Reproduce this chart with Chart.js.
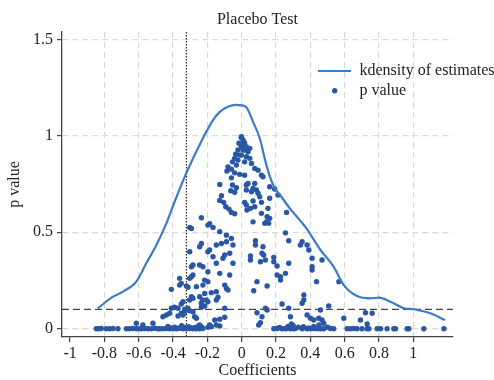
<!DOCTYPE html>
<html>
<head>
<meta charset="utf-8">
<script src="https://cdn.jsdelivr.net/npm/chart.js@4.4.0/dist/chart.umd.min.js"></script>
<style>
    html, body { margin: 0; padding: 0; background: #fff; }
    canvas { display: block; }
</style>
</head>
<body>
<canvas id="chart" width="494" height="380"></canvas>
<script>
// kernel density of the placebo estimates
const kdX = [-0.838, -0.75, -0.692, -0.614, -0.556, -0.497, -0.439, -0.391, -0.322, -0.226,
             -0.167, -0.128, -0.08, -0.035, 0.0, 0.03, 0.066, 0.105, 0.144, 0.183,
             0.231, 0.28, 0.338, 0.371, 0.459, 0.536, 0.595, 0.672, 0.75, 0.799,
             0.867, 0.945, 1.003, 1.1, 1.184];
const kdY = [0.106, 0.166, 0.192, 0.244, 0.339, 0.434, 0.546, 0.658, 0.808, 0.987,
             1.081, 1.124, 1.15, 1.16, 1.158, 1.145, 1.073, 0.987, 0.848, 0.745,
             0.684, 0.624, 0.563, 0.528, 0.408, 0.321, 0.226, 0.169, 0.157, 0.161,
             0.14, 0.106, 0.101, 0.08, 0.045];

// placebo coefficients and their p values (same order)
const coefX = [
    -0.002, 0.012, -0.016, -0.002, -0.022, 0.017, -0.035, -0.012, -0.041, -0.022,
    -0.054, -0.031, -0.080, -0.060, -0.086, -0.041, -0.012, -0.060, -0.128, -0.054,
    -0.031, -0.064, -0.041, 0.027, -0.118, -0.128, -0.105, -0.093, -0.074, -0.060,
    -0.041, 0.017, 0.031, -0.235, -0.187,
    -0.002, 0.008, 0.017, -0.002, 0.027, 0.047, 0.008, 0.037, -0.002, 0.027,
    0.047, 0.017, 0.057, 0.076, 0.095, 0.017, 0.115, 0.124, 0.037, 0.027,
    0.076, 0.066, 0.086, 0.057, 0.095, 0.163, 0.192, 0.212, 0.105, 0.163,
    0.066, 0.115, 0.027, 0.076, 0.153, 0.115, 0.261, 0.163, 0.066, 0.144,
    0.134, 0.051, 0.148, 0.157,
    -0.303, -0.197, -0.167, -0.128, -0.089, -0.060, -0.089, -0.118, -0.051, -0.235,
    -0.245, -0.148, -0.303, -0.197, -0.099, -0.070, -0.167, -0.109, -0.051, -0.245,
    -0.226, -0.148, -0.197, -0.128, -0.284, -0.070, -0.362, -0.216, -0.197, -0.352,
    -0.362, -0.099, -0.410, -0.322, -0.264, -0.089, -0.080, -0.148, -0.216, -0.177,
    -0.293, -0.284, -0.138, -0.148, -0.206, -0.303, -0.235, -0.197, -0.342, -0.352,
    -0.216, -0.410, -0.391, -0.371, -0.332, -0.313, -0.303, -0.235, -0.099, -0.439,
    -0.420, -0.371, -0.342, -0.274, -0.157, -0.128, -0.099, -0.197, -0.177, -0.148,
    -0.128,
    -0.614, -0.517, -0.576, -0.459, -0.352, -0.332, -0.284, -0.264, -0.245, -0.235,
    -0.187, -0.313, -0.293, -0.303, -0.284, -0.293, -0.293, -0.226, -0.245, -0.229,
    -0.187,
    0.255, 0.274, 0.080, 0.080, 0.124, 0.118, 0.128, 0.051, 0.051, 0.187,
    0.187, 0.109, 0.138, 0.206, 0.206, 0.226, 0.226, 0.255, 0.274, 0.342,
    0.352, 0.381, 0.391, 0.410, 0.410, 0.410, 0.468, 0.436, 0.566, 0.089,
    0.070, 0.148, 0.362, 0.362, 0.352, 0.235, 0.274, 0.089, 0.118, 0.109,
    0.099, 0.138, 0.148, 0.284, 0.381, 0.401, 0.420, 0.449, 0.468, 0.478,
    0.459, 0.507, 0.595, 0.692, 0.721, 0.760, 0.731,
    -0.847, -0.832, -0.818, -0.789, -0.770, -0.750, -0.721, -0.672, -0.653, -0.634,
    -0.614, -0.599, -0.585, -0.566, -0.546, -0.527, -0.507, -0.488, -0.478, -0.459,
    -0.439, -0.420, -0.401, -0.381, -0.362, -0.342, -0.322, -0.303, -0.284, -0.264,
    -0.245, -0.226,
    -0.43, -0.41, -0.39, -0.37, -0.35, -0.33, -0.31, -0.29, -0.27, -0.255,
    0.187, 0.206, 0.235, 0.255, 0.264, 0.284, 0.303, 0.313, 0.352, 0.381,
    0.401, 0.420, 0.439, 0.459, 0.478, 0.517, 0.536, 0.614, 0.634, 0.653,
    0.672, 0.701, 0.731, 0.741, 0.789, 0.809, 0.847, 0.886, 0.896, 0.964,
    0.974, 1.061, 1.178,
    0.27, 0.30, 0.33, 0.36, 0.42, 0.45, 0.39, 0.29, 0.22, 0.50
];
const pVal = [
    0.990, 0.969, 0.961, 0.943, 0.926, 0.926, 0.904, 0.900, 0.883, 0.874,
    0.865, 0.848, 0.839, 0.827, 0.817, 0.808, 0.800, 0.782, 0.748, 0.745,
    0.731, 0.715, 0.707, 0.719, 0.689, 0.665, 0.655, 0.632, 0.620, 0.603,
    0.596, 0.655, 0.615, 0.575, 0.544,
    0.995, 0.978, 0.961, 0.952, 0.943, 0.935, 0.926, 0.917, 0.900, 0.891,
    0.883, 0.865, 0.857, 0.831, 0.822, 0.796, 0.796, 0.788, 0.753, 0.745,
    0.753, 0.727, 0.719, 0.710, 0.702, 0.736, 0.724, 0.693, 0.684, 0.676,
    0.662, 0.655, 0.641, 0.632, 0.624, 0.598, 0.603, 0.572, 0.554, 0.554,
    0.546, 0.624, 0.580, 0.546,
    0.525, 0.537, 0.525, 0.503, 0.485, 0.468, 0.451, 0.442, 0.434, 0.442,
    0.425, 0.434, 0.399, 0.399, 0.382, 0.391, 0.373, 0.365, 0.339, 0.330,
    0.321, 0.339, 0.295, 0.287, 0.278, 0.278, 0.261, 0.252, 0.244, 0.235,
    0.226, 0.226, 0.204, 0.221, 0.218, 0.209, 0.201, 0.192, 0.183, 0.187,
    0.166, 0.158, 0.163, 0.149, 0.149, 0.149, 0.132, 0.140, 0.140, 0.128,
    0.118, 0.106, 0.111, 0.106, 0.101, 0.106, 0.093, 0.111, 0.106, 0.071,
    0.080, 0.066, 0.071, 0.062, 0.045, 0.049, 0.059, 0.007, 0.010, 0.019,
    0.014,
    0.028, 0.028, 0.019, 0.062, 0.080, 0.088, 0.088, 0.054, 0.019, 0.010,
    0.019, 0.215, 0.269, 0.261, 0.330, 0.321, 0.520, 0.226, 0.166, 0.149,
    0.408,
    0.497, 0.456, 0.456, 0.434, 0.425, 0.391, 0.382, 0.377, 0.356, 0.370,
    0.347, 0.347, 0.356, 0.325, 0.278, 0.269, 0.252, 0.287, 0.339, 0.434,
    0.451, 0.434, 0.408, 0.365, 0.321, 0.304, 0.356, 0.244, 0.244, 0.244,
    0.197, 0.221, 0.175, 0.149, 0.132, 0.128, 0.106, 0.083, 0.062, 0.031,
    0.019, 0.106, 0.097, 0.062, 0.071, 0.054, 0.045, 0.054, 0.045, 0.028,
    0.097, 0.118, 0.054, 0.045, 0.083, 0.080, 0.024,
    0.000, 0.000, 0.001, 0.000, 0.000, 0.001, 0.000, 0.000, 0.000, 0.001,
    0.000, 0.000, 0.000, 0.001, 0.000, 0.000, 0.002, 0.000, 0.000, 0.000,
    0.001, 0.000, 0.000, 0.000, 0.002, 0.000, 0.000, 0.001, 0.000, 0.000,
    0.000, 0.001,
    0.012, 0.004, 0.008, 0.003, 0.015, 0.006, 0.010, 0.004, 0.006, 0.012,
    0.000, 0.001, 0.000, 0.000, 0.002, 0.000, 0.000, 0.001, 0.000, 0.000,
    0.000, 0.001, 0.000, 0.000, 0.000, 0.001, 0.000, 0.000, 0.000, 0.001,
    0.000, 0.000, 0.000, 0.000, 0.000, 0.000, 0.000, 0.000, 0.000, 0.000,
    0.000, 0.000, 0.000,
    0.012, 0.015, 0.008, 0.010, 0.012, 0.020, 0.004, 0.025, 0.006, 0.008
];

const xTickVals = [-1, -0.8, -0.6, -0.4, -0.2, 0, 0.2, 0.4, 0.6, 0.8, 1];
const xTickLabels = ['-1', '-0.8', '-0.6', '-0.4', '-0.2', '0', '0.2', '0.4', '0.6', '0.8', '1'];
const yTickVals = [0, 0.5, 1, 1.5];
const yTickLabels = ['0', '0.5', '1', '1.5'];

const chartTitle = 'Placebo Test';
const trueCoef = -0.322;  // actual estimate, dotted vertical line
const pCut = 0.1;         // significance cut, dashed horizontal line

const lineBlue = '#3a7cc6';
const dotBlue = '#2a57a5';
const serif = '"Liberation Serif", "Times New Roman", serif';

Chart.defaults.font.family = serif;
Chart.defaults.font.size = 16;
Chart.defaults.color = '#222';

// reference lines behind the points
const refLines = {
    id: 'refLines',
    beforeDatasetsDraw(chart) {
        const {ctx, chartArea, scales} = chart;
        const vx = scales.x.getPixelForValue(trueCoef);
        const hy = scales.y.getPixelForValue(pCut);
        ctx.save();
        ctx.strokeStyle = '#222';
        ctx.lineWidth = 1.2;
        ctx.setLineDash([1.5, 1.5]);
        ctx.beginPath();
        ctx.moveTo(vx, chartArea.top);
        ctx.lineTo(vx, chartArea.bottom);
        ctx.stroke();
        ctx.strokeStyle = '#444';
        ctx.lineWidth = 1.3;
        ctx.setLineDash([7, 4]);
        ctx.beginPath();
        ctx.moveTo(chartArea.left, hy);
        ctx.lineTo(chartArea.right, hy);
        ctx.stroke();
        ctx.restore();
    }
};

// title and legend inside the plot, like stata does
const titleLegend = {
    id: 'titleLegend',
    afterDraw(chart) {
        const {ctx, chartArea} = chart;
        const ds = chart.data.datasets;
        ctx.save();
        ctx.fillStyle = '#222';
        ctx.font = '16px ' + serif;
        ctx.textAlign = 'center';
        ctx.textBaseline = 'alphabetic';
        ctx.fillText(chartTitle, (chartArea.left + chartArea.right) / 2, 23.5);

        ctx.textAlign = 'left';
        ctx.textBaseline = 'middle';
        ctx.strokeStyle = lineBlue;
        ctx.lineWidth = 2.2;
        ctx.beginPath();
        ctx.moveTo(318, 71);
        ctx.lineTo(351, 71);
        ctx.stroke();
        ctx.fillText(ds[0].label, 359.5, 71);

        ctx.fillStyle = dotBlue;
        ctx.beginPath();
        ctx.arc(334.7, 90.7, 2.7, 0, Math.PI * 2);
        ctx.fill();
        ctx.fillStyle = '#222';
        ctx.fillText(ds[1].label, 359.5, 90.7);
        ctx.restore();
    }
};

const gridCommon = {
    lineWidth: 1.2,
    tickLength: 5,
    tickWidth: 1.2,
    tickColor: '#444'
};

new Chart(document.getElementById('chart'), {
    type: 'scatter',
    data: {
        datasets: [{
            label: 'kdensity of estimates',
            data: kdX.map((x, i) => ({x: x, y: kdY[i]})),
            showLine: true,
            borderColor: lineBlue,
            borderWidth: 2.2,
            pointRadius: 0,
            fill: false,
            cubicInterpolationMode: 'monotone'
        }, {
            label: 'p value',
            data: coefX.map((x, i) => ({x: x, y: pVal[i]})),
            backgroundColor: dotBlue,
            pointRadius: 2.7,
            borderWidth: 0
        }]
    },
    options: {
        responsive: false,
        animation: false,
        devicePixelRatio: 1,
        layout: { padding: {top: 32, right: 41, bottom: 0, left: 0} },
        plugins: {
            legend: { display: false },
            tooltip: { enabled: false }
        },
        scales: {
            x: {
                type: 'linear',
                min: -1.047,
                max: 1.231,
                afterBuildTicks: scale => { scale.ticks = xTickVals.map(v => ({value: v})); },
                afterFit: scale => { scale.height = 43; },
                ticks: {
                    padding: 2,
                    maxRotation: 0,
                    autoSkip: false,
                    color: '#222',
                    callback: (v, i) => xTickLabels[i]
                },
                grid: Object.assign({}, gridCommon, {
                    color: ctx => (ctx.tick && ctx.tick.value === -1) ? 'rgba(0,0,0,0)' : '#d9d9d9'
                }),
                border: { color: '#444', width: 1.3, dash: [6, 4] },
                title: { display: true, text: 'Coefficients', padding: {top: 0, bottom: 0}, color: '#222' }
            },
            y: {
                type: 'linear',
                min: -0.043,
                max: 1.538,
                afterBuildTicks: scale => { scale.ticks = yTickVals.map(v => ({value: v})); },
                afterFit: scale => { scale.width = 62; },
                ticks: {
                    padding: 4,
                    color: '#222',
                    callback: (v, i) => yTickLabels[i]
                },
                grid: Object.assign({}, gridCommon, { color: '#d9d9d9' }),
                border: { color: '#444', width: 1.3, dash: [6, 4] },
                title: { display: true, text: 'p value', padding: {top: 5, bottom: 0}, color: '#222' }
            }
        }
    },
    plugins: [refLines, titleLegend]
});
</script>
</body>
</html>
